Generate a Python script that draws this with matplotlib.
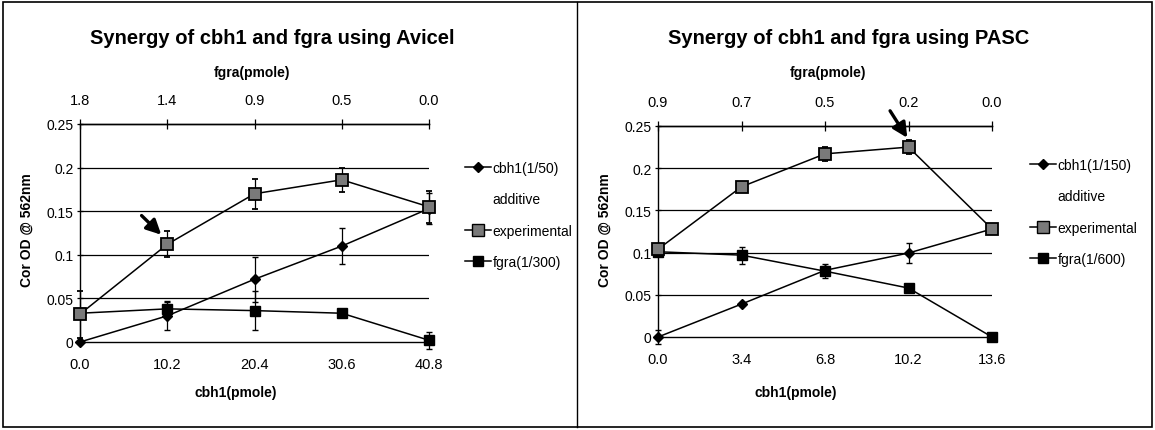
import matplotlib
matplotlib.use('Agg')
import matplotlib.pyplot as plt
from matplotlib.lines import Line2D
from matplotlib.patches import Rectangle

plt.rcParams['font.family'] = ['Liberation Sans Narrow', 'Liberation Sans', 'DejaVu Sans']

# Avicel panel
avicel_cbh1 = [0.0, 10.2, 20.4, 30.6, 40.8]
avicel_fgra = ['1.8', '1.4', '0.9', '0.5', '0.0']
avicel_cbh1_od = [0.0, 0.030, 0.072, 0.110, 0.153]
avicel_cbh1_err = [0.0, 0.016, 0.026, 0.021, 0.018]
avicel_exp_od = [0.032, 0.112, 0.170, 0.186, 0.155]
avicel_exp_err = [0.027, 0.015, 0.017, 0.014, 0.018]
avicel_fgra_od = [0.033, 0.038, 0.036, 0.033, 0.002]
avicel_fgra_err = [0.0, 0.009, 0.022, 0.0, 0.010]

# PASC panel
pasc_cbh1 = [0.0, 3.4, 6.8, 10.2, 13.6]
pasc_fgra = ['0.9', '0.7', '0.5', '0.2', '0.0']
pasc_cbh1_od = [0.0, 0.039, 0.079, 0.0995, 0.128]
pasc_cbh1_err = [0.008, 0.0, 0.0, 0.012, 0.0]
pasc_exp_od = [0.104, 0.178, 0.217, 0.225, 0.128]
pasc_exp_err = [0.005, 0.005, 0.008, 0.008, 0.005]
pasc_fgra_od = [0.101, 0.097, 0.078, 0.058, 0.0]
pasc_fgra_err = [0.0, 0.010, 0.008, 0.0, 0.0]

W, H = 1155, 431
fig = plt.figure(figsize=(W / 100, H / 100), dpi=100)


def fx(px):
    return px / W


def fy(py):
    return 1 - py / H


def draw_panel(rect, x, top_labels, series, legend_names, arrow, title, title_x,
               xlabel_x, top_label_x, ylabel_x, legend_x, legend_y):
    ax = fig.add_axes(rect)
    cbh1_od, cbh1_err, exp_od, exp_err, fgra_od, fgra_err = series

    ax.errorbar(x, cbh1_od, yerr=cbh1_err, color='black', lw=1.1, marker='D',
                ms=5, mfc='black', mec='black', ecolor='black', elinewidth=0.9,
                capsize=2.5, clip_on=False, zorder=4)
    ax.errorbar(x, exp_od, yerr=exp_err, color='black', lw=1.1, marker='s',
                ms=9, mfc='#7a7a7a', mec='black', mew=1.3, ecolor='black',
                elinewidth=0.9, capsize=2.5, clip_on=False, zorder=5)
    ax.errorbar(x, fgra_od, yerr=fgra_err, color='black', lw=1.1, marker='s',
                ms=7.5, mfc='black', mec='black', ecolor='black', elinewidth=0.9,
                capsize=2.5, clip_on=False, zorder=4)

    ax.set_xlim(x[0], x[-1])
    ax.set_ylim(0, 0.25)
    ax.set_yticks([0, 0.05, 0.1, 0.15, 0.2, 0.25])
    ax.set_yticklabels(['0', '0.05', '0.1', '0.15', '0.2', '0.25'], fontsize=10)
    ax.set_xticks(x)
    ax.set_xticklabels(['%.1f' % v for v in x], fontsize=10.5)
    ax.tick_params(axis='y', direction='inout', length=5, width=0.9, pad=2)
    ax.tick_params(axis='x', length=0, pad=11)
    for y in [0.05, 0.1, 0.15, 0.2]:
        ax.axhline(y, color='black', lw=0.9, zorder=1)
    ax.spines['right'].set_visible(False)
    for side in ['left', 'bottom', 'top']:
        ax.spines[side].set_linewidth(1.0)

    top = ax.secondary_xaxis('top')
    top.set_xticks(x)
    top.set_xticklabels(top_labels, fontsize=10.5)
    top.tick_params(direction='inout', length=7, width=0.9, pad=9)
    top.spines['top'].set_linewidth(1.0)

    ax.annotate('', xy=arrow[1], xytext=arrow[0], annotation_clip=False,
                arrowprops=dict(arrowstyle='-|>', color='black', lw=2.4,
                                mutation_scale=22, shrinkA=0, shrinkB=0))

    handles = [
        Line2D([], [], color='black', lw=1.1, marker='D', ms=5),
        Line2D([], [], color='none'),
        Line2D([], [], color='black', lw=1.1, marker='s', ms=9, mfc='#7a7a7a',
               mec='black'),
        Line2D([], [], color='black', lw=1.1, marker='s', ms=7),
    ]
    fig.legend(handles, legend_names, loc='upper left',
               bbox_to_anchor=(fx(legend_x), fy(legend_y)), frameon=False,
               fontsize=10, handlelength=1.9, handletextpad=0.1,
               labelspacing=1.25, borderaxespad=0, borderpad=0)

    fig.text(fx(title_x), fy(38), title, ha='center', va='center',
             fontsize=14.5, fontweight='bold', family=['Liberation Sans', 'DejaVu Sans'])
    fig.text(fx(top_label_x), fy(73), 'fgra(pmole)', ha='center', va='center',
             fontsize=10, fontweight='bold')
    fig.text(fx(xlabel_x), fy(393), 'cbh1(pmole)', ha='center', va='center',
             fontsize=10, fontweight='bold')
    fig.text(fx(ylabel_x), fy(230), 'Cor OD @ 562nm', ha='center', va='center',
             rotation=90, fontsize=10, fontweight='bold',
             family=['Liberation Sans', 'DejaVu Sans'])
    return ax


draw_panel([fx(80), fy(343), fx(429 - 80), (343 - 125) / H],
           avicel_cbh1, avicel_fgra,
           (avicel_cbh1_od, avicel_cbh1_err, avicel_exp_od, avicel_exp_err,
            avicel_fgra_od, avicel_fgra_err),
           ['cbh1(1/50)', 'additive', 'experimental', 'fgra(1/300)'],
           ((7.2, 0.145), (9.5, 0.123)),
           'Synergy of cbh1 and fgra using Avicel', 272, 236, 252, 27, 465, 162)

draw_panel([fx(658), fy(338), fx(992 - 658), (338 - 127) / H],
           pasc_cbh1, pasc_fgra,
           (pasc_cbh1_od, pasc_cbh1_err, pasc_exp_od, pasc_exp_err,
            pasc_fgra_od, pasc_fgra_err),
           ['cbh1(1/150)', 'additive', 'experimental', 'fgra(1/600)'],
           ((9.45, 0.268), (10.15, 0.236)),
           'Synergy of cbh1 and fgra using PASC', 849, 796, 828, 605, 1030, 159)

# outer frame and the divider between the two charts
fig.add_artist(Rectangle((fx(3), fy(428)), fx(1152 - 3), (428 - 3) / H,
                         transform=fig.transFigure, fill=False, lw=1.2,
                         ec='black'))
fig.add_artist(Line2D([fx(577), fx(577)], [fy(428), fy(3)],
                      transform=fig.transFigure, color='black', lw=1.0))

fig.savefig('out.png', dpi=100)
